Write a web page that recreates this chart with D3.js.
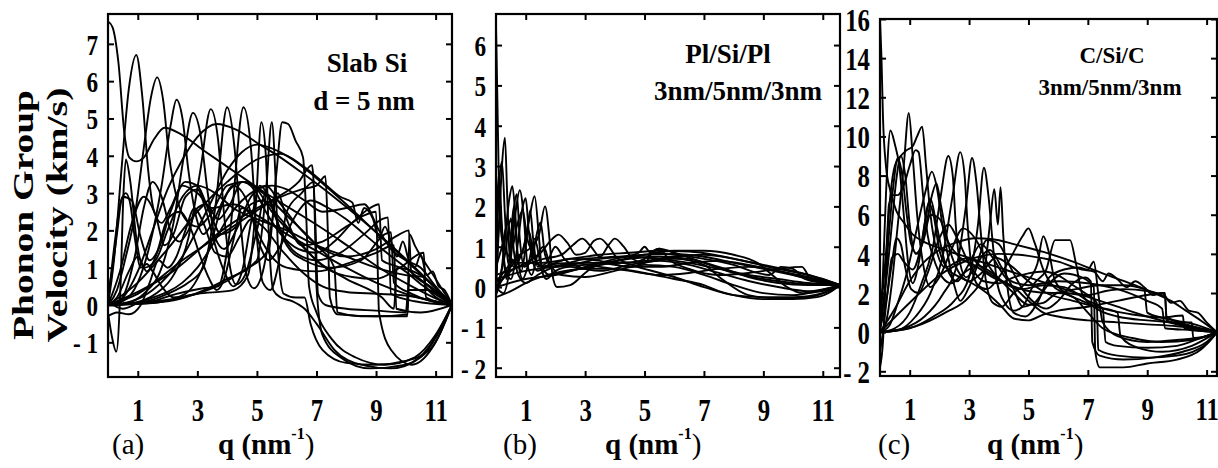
<!DOCTYPE html>
<html>
<head>
<meta charset="utf-8">
<script src="https://cdn.jsdelivr.net/npm/d3@7"></script>
<style>
  body { margin: 0; background: #fff; }
  svg text { fill: #000; }
</style>
</head>
<body>
<div id="chart"></div>
<script>
const svgWidth = 1218;
const svgHeight = 468;

// q tick values shared by all three panels
const qTicks = [1, 3, 5, 7, 9, 11];
const ticksA = [-1, 0, 1, 2, 3, 4, 5, 6, 7];
const ticksB = [-2, -1, 0, 1, 2, 3, 4, 5, 6];
const ticksC = [-2, 0, 2, 4, 6, 8, 10, 12, 14, 16];

// (a) slab Si, d = 5 nm : branches as [q, v]
const curvesA = [
  [[0,7.6],[0.15,7.45],[0.35,6.5],[0.55,4.6],[0.72,3.95],[0.95,3.85],[1.2,3.95],[1.55,4.45],[1.9,4.75],[2.4,4.6],[3.2,4.15],[4.2,3.6],[5.2,3.05],[6.2,2.55],[7.2,2.05],[8.2,1.5],[9.2,0.95],[10.2,0.5],[11,0.18],[11.55,0]],
  [[0,0],[0.5,0.2],[1,0.9],[1.5,2],[2,3.1],[2.5,3.9],[3,4.5],[3.65,4.85],[4.3,4.7],[5,4.35],[5.8,3.95],[6.5,3.55],[7.5,2.95],[8.5,2.3],[9.5,1.6],[10.5,0.85],[11.55,0]],
  [[0,0],[0.8,0.1],[1.5,0.4],[2.5,1.3],[3.3,2.5],[4,3.6],[4.5,4.1],[5,4.3],[5.5,4.2],[6.2,3.9],[7,3.4],[8,2.7],[9,1.95],[10,1.2],[11,0.45],[11.55,0]],
  [[0,0],[0.2,1.2],[0.45,3.6],[0.7,5.8],[0.95,6.7],[1.15,5.6],[1.35,3.6],[1.55,2.5],[1.8,2.2],[2.1,2.6],[2.5,3.2],[3,3.0],[3.5,2.6],[4.2,2.7],[5,2.4],[6,1.9],[7,1.45],[8,1.0],[9,0.6],[10,0.3],[11,0.08],[11.55,0]],
  [[0,0],[0.3,0.4],[0.6,1.3],[0.9,2.4],[1.2,4.2],[1.45,5.6],[1.65,6.1],[1.85,5.5],[2.05,4.0],[2.3,2.9],[2.6,2.3],[3,2.1],[3.5,2.5],[4,3.2],[4.6,3.3],[5.2,3.0],[6,2.4],[7,1.6],[7.6,1.0],[7.7,-0.2],[8.5,-0.3],[10.05,-0.3],[10.12,0.8],[10.8,0.5],[11.55,0]],
  [[0,0],[0.5,0.1],[1,0.6],[1.4,1.6],[1.8,3.2],[2.1,4.8],[2.3,5.5],[2.5,5.0],[2.7,3.6],[2.95,2.4],[3.2,1.9],[3.5,2.2],[4,3.0],[4.5,3.3],[5,3.1],[5.5,2.5],[6.3,1.8],[7,1.2],[8,0.7],[9.2,0.2],[9.6,-0.1],[9.7,1.0],[10.5,0.8],[11.55,0]],
  [[0,0],[0.6,0.05],[1.2,0.3],[1.8,1.0],[2.2,2.2],[2.55,4.0],[2.85,5.15],[3.1,4.6],[3.35,3.0],[3.6,1.8],[3.9,1.5],[4.3,2.0],[4.8,2.9],[5.3,3.2],[5.8,2.7],[6.5,2.0],[7.2,1.5],[8,1.3],[9,1.5],[9.8,1.9],[10.1,2.0],[10.18,0.9],[10.8,0.5],[11.55,0]],
  [[0,0],[0.8,0.05],[1.6,0.3],[2.2,0.8],[2.7,1.8],[3.1,3.6],[3.45,5.25],[3.7,4.4],[3.9,2.4],[4.1,1.0],[4.3,0.55],[4.6,0.8],[5,2.0],[5.3,3.0],[5.6,2.4],[6,1.6],[6.6,1.2],[7.5,1.0],[8.5,1.2],[9.3,1.9],[9.5,1.95],[9.6,0.6],[10.2,0.3],[11.55,0]],
  [[0,0],[1,0.05],[2,0.3],[2.7,0.6],[3.2,1.0],[3.6,2.6],[4.0,5.3],[4.25,4.2],[4.45,2.2],[4.65,0.8],[4.9,0.45],[5.2,0.9],[5.5,2.2],[5.7,3.0],[6,2.3],[6.5,1.6],[7.2,1.7],[8,2.1],[8.6,2.4],[9,2.5],[9.1,-0.2],[9.5,-1.2],[10.2,-1.6],[11,-1.0],[11.55,0]],
  [[0,0],[1.2,0.05],[2.3,0.3],[3.2,0.45],[3.7,0.5],[4.1,2.0],[4.55,5.3],[4.8,4.2],[5.0,1.8],[5.2,0.6],[5.45,0.4],[5.7,1.0],[6.0,2.5],[6.5,3.0],[6.9,3.3],[7.0,0.5],[7.2,-0.8],[7.8,-1.4],[8.8,-1.7],[10,-1.6],[10.8,-1.1],[11.55,0]],
  [[0,0],[1.5,0.05],[3,0.3],[4.2,0.4],[4.7,0.8],[4.95,2.5],[5.15,4.9],[5.3,4.0],[5.42,1.5],[5.55,0.4],[5.8,0.2],[6.2,0.1],[6.6,-0.1],[7,-0.5],[7.6,-1.2],[8.5,-1.6],[9.5,-1.7],[10.5,-1.4],[11.55,0]],
  [[0,0],[2,0.1],[4,0.7],[5,1.2],[5.3,3.0],[5.5,4.9],[5.62,3.5],[5.72,1.3],[5.9,0.3],[6.3,0.2],[6.6,0.2],[6.8,-0.5],[7.2,-1.2],[8,-1.55],[9,-1.6],[10,-1.5],[10.8,-1.2],[11.55,0]],
  [[0,0],[2.5,0.2],[4.5,0.9],[5.4,1.5],[5.65,3.5],[5.85,4.9],[6.05,4.85],[6.3,4.4],[6.55,3.95],[6.65,2.5],[6.75,0.5],[7,-0.2],[7.5,-0.9],[8.3,-1.4],[9.3,-1.6],[10.3,-1.4],[11,-0.8],[11.55,0]],
  [[0,0],[1,0.3],[2.5,1.2],[4,2.0],[5.5,2.8],[6.4,3.3],[6.85,3.75],[6.95,2.5],[7.05,0.3],[7.3,0.0],[8,-0.1],[9,-0.15],[10,-0.2],[10.08,0.4],[10.7,0.4],[11.55,0]],
  [[0,0],[2,0.8],[4,2.1],[5.5,2.8],[6.5,3.1],[7.0,3.2],[7.3,3.45],[7.38,2.0],[7.45,0.2],[7.7,-0.25],[9,-0.3],[10.05,-0.25],[10.12,1.9],[10.3,1.6],[11,0.7],[11.55,0]],
  [[0,0],[1,0.6],[2,1.5],[3,2.5],[4,3.3],[5,3.9],[5.8,4.05],[6.5,3.75],[7.2,3.3],[7.8,2.9],[8.2,2.75],[8.4,2.2],[8.6,2.6],[8.9,2.3],[9.1,1.8],[9.3,2.1],[9.5,1.7],[9.7,1.3],[9.9,1.7],[10.1,1.2],[10.3,1.0],[10.5,1.35],[10.7,0.8],[10.9,0.9],[11.1,0.5],[11.3,0.4],[11.55,0]],
  [[0,-0.2],[0.12,-0.8],[0.28,-1.25],[0.42,0.5],[0.52,3.0],[0.6,3.9],[0.75,3.3],[0.95,1.8],[1.2,1.0],[1.6,1.2],[2,2.0],[2.5,2.9],[3,3.2],[3.6,3.0],[4.2,2.6],[5,2.3],[6,2.0],[7,1.6],[8,1.3],[9,1.0],[10,0.8],[10.6,0.75],[10.68,0.2],[11.55,0]],
  [[0,0],[0.2,1.5],[0.5,2.9],[0.8,2.8],[1.1,1.8],[1.4,1.2],[1.7,1.5],[2.1,2.5],[2.6,3.3],[3.0,3.2],[3.4,2.5],[3.8,1.9],[4.3,2.1],[4.8,2.7],[5.2,2.8],[5.8,2.3],[6.5,1.6],[7.3,1.0],[8.2,0.75],[9,0.7],[9.8,1.0],[10.6,1.4],[10.66,0.5],[11.55,0]],
  [[0,0.1],[0.5,-0.1],[1,0.05],[1.5,0.2],[2,0.35],[2.5,0.6],[3,1.0],[3.5,1.6],[4,2.3],[4.5,2.8],[5,3.1],[5.5,3.2],[6,3.1],[6.6,2.8],[7.2,2.5],[8,2.6],[8.6,2.7],[9.1,2.0],[9.5,1.5],[10,1.2],[10.5,1.0],[11,0.5],[11.55,0]],
  [[0,-0.3],[0.3,-0.2],[0.7,-0.25],[1.1,0.0],[1.4,0.6],[1.7,1.2],[2.0,1.0],[2.3,1.3],[2.6,2.0],[2.9,2.6],[3.2,2.2],[3.6,1.4],[4.0,1.3],[4.4,1.8],[4.8,2.3],[5.2,2.1],[5.8,1.5],[6.5,0.9],[7.2,0.5],[8,0.35],[9,0.3],[10,0.25],[11,0.1],[11.55,0]],
  [[0,0.3],[0.15,1.0],[0.3,1.9],[0.45,2.8],[0.6,3.0],[0.75,2.7],[0.9,1.8],[1.1,1.0],[1.3,1.1],[1.5,0.9],[1.8,0.5],[2.2,0.2],[2.6,0.3],[3.0,0.7],[3.4,1.5],[3.8,2.6],[4.2,3.2],[4.6,2.9],[5.0,2.0],[5.4,1.4],[6,1.0],[7,0.9],[8,1.1],[9,1.4],[9.6,1.6],[9.68,-0.1],[10.5,-0.2],[11.55,0]],
  [[0,0],[0.4,0.9],[0.8,2.2],[1.2,2.9],[1.6,2.4],[1.9,1.6],[2.2,1.9],[2.6,2.9],[3.0,3.1],[3.3,2.5],[3.6,1.6],[3.9,0.9],[4.2,0.5],[4.5,0.9],[4.8,2.2],[5.1,3.2],[5.4,2.9],[5.8,2.0],[6.3,1.4],[7,1.2],[7.8,1.4],[8.6,1.9],[9.2,2.3],[9.4,2.35],[9.5,0.3],[10.3,0.1],[11.55,0]],
  [[0,0],[0.3,0.2],[0.7,0.9],[1.0,1.3],[1.3,0.9],[1.6,1.3],[2.0,2.3],[2.4,2.5],[2.8,2.0],[3.1,1.3],[3.4,0.7],[3.65,0.4],[3.9,0.7],[4.2,1.7],[4.5,2.6],[4.8,2.4],[5.1,1.6],[5.4,1.2],[5.8,1.6],[6.3,2.4],[6.8,2.8],[7.4,2.6],[8,2.3],[8.6,1.9],[9.2,1.5],[10,1.0],[11,0.35],[11.55,0]],
  [[0,0.1],[0.3,0.0],[0.6,0.4],[0.9,1.3],[1.2,2.6],[1.5,3.3],[1.8,2.9],[2.1,2.0],[2.4,1.7],[2.7,2.0],[3.0,2.6],[3.3,2.7],[3.7,2.3],[4.1,2.7],[4.5,3.3],[4.9,3.1],[5.3,2.5],[5.8,1.9],[6.4,1.5],[7,1.4],[7.6,1.7],[8.2,2.2],[8.8,2.6],[9.1,2.7],[9.2,1.2],[9.8,1.0],[10.6,0.5],[11.55,0]]
];

// (b) Pl/Si/Pl 3nm/5nm/3nm
const curvesB = [
  [[0,6.5],[0.05,4.5],[0.1,2.5],[0.2,1.2],[0.4,0.8],[0.8,0.6],[1.5,0.6],[2.5,0.7],[3.5,0.8],[4.5,0.85],[5.5,0.9],[6.5,0.88],[7.5,0.78],[8.5,0.62],[9.5,0.45],[10.5,0.3],[11.58,0.05]],
  [[0,0],[0.1,1.5],[0.2,3.0],[0.3,3.7],[0.38,2.2],[0.45,0.9],[0.6,0.5],[0.9,0.9],[1.1,1.4],[1.3,0.7],[1.6,0.5],[2.2,0.55],[3,0.7],[4,0.75],[5,0.8],[6,0.82],[7,0.75],[8,0.6],[9,0.45],[10,0.3],[11,0.15],[11.58,0.05]],
  [[0,-0.2],[0.15,0.2],[0.3,1.2],[0.45,2.2],[0.55,2.5],[0.65,1.8],[0.75,0.6],[0.9,0.2],[1.1,0.6],[1.3,1.2],[1.5,0.6],[1.8,0.3],[2.5,0.4],[3.5,0.55],[4.5,0.7],[5.5,0.75],[6.5,0.7],[7.5,0.5],[8.5,0.25],[9.5,0.1],[10.5,0.05],[11.58,0.05]],
  [[0,0],[0.25,-0.15],[0.45,0.4],[0.65,1.8],[0.8,2.4],[0.95,1.6],[1.05,0.6],[1.2,0.3],[1.4,0.8],[1.6,1.0],[1.8,0.6],[2.2,0.3],[3,0.25],[4,0.4],[5,0.55],[6,0.5],[7,0.3],[8,0.05],[9,-0.15],[10,-0.2],[10.8,-0.1],[11.58,0.05]],
  [[0,-0.1],[0.3,0.3],[0.6,0.6],[0.9,0.9],[1.1,1.6],[1.3,2.25],[1.45,1.2],[1.55,0.4],[1.7,0.2],[2,0.4],[2.5,0.5],[3,0.45],[3.5,0.55],[4.2,0.6],[5,0.45],[6,0.25],[7,0.0],[8,-0.2],[9,-0.25],[10,-0.25],[11,-0.15],[11.58,0.05]],
  [[0,0.1],[0.4,0.5],[0.8,0.8],[1.2,1.0],[1.45,1.3],[1.65,2.0],[1.8,1.2],[1.9,0.3],[2.05,0.0],[2.5,0.05],[3,0.35],[3.5,0.6],[4,0.55],[4.5,0.5],[5,0.6],[6,0.7],[7,0.55],[7.6,0.2],[8.5,-0.2],[9.5,-0.28],[10.5,-0.25],[11.58,0.05]],
  [[0,0],[0.5,0.4],[1,0.6],[1.5,0.85],[1.9,1.2],[2.1,1.3],[2.4,1.1],[2.7,0.8],[3,0.85],[3.3,1.15],[3.5,1.2],[3.8,1.0],[4.1,0.7],[4.5,0.6],[5,0.7],[5.5,0.95],[6,0.85],[7,0.6],[8,0.35],[9,0.2],[10,0.1],[11,0.05],[11.58,0.05]],
  [[0,0.3],[0.8,0.5],[1.6,0.7],[2.2,0.8],[2.6,1.05],[2.9,1.2],[3.2,1.0],[3.5,0.75],[3.8,1.05],[4.0,1.2],[4.3,1.0],[4.6,0.7],[5,0.6],[5.3,0.9],[5.5,0.95],[5.8,0.7],[6.5,0.45],[7.5,0.3],[8.5,0.35],[9.5,0.45],[10.3,0.5],[10.6,0.2],[11.58,0.05]],
  [[0,0],[1,0.2],[2,0.3],[3,0.5],[4,0.7],[4.8,0.85],[5,1.0],[5.2,0.85],[6,0.8],[7,0.7],[8,0.55],[8.8,0.35],[9.2,0.3],[9.6,0.5],[10,0.45],[10.4,0.2],[11,0.1],[11.58,0.05]],
  [[0,-0.25],[0.5,-0.1],[1,0.1],[2,0.35],[3,0.45],[4,0.45],[5,0.35],[6,0.2],[7,0.05],[7.5,-0.1],[8,-0.2],[9,-0.3],[10,-0.3],[10.8,-0.25],[11.3,-0.1],[11.58,0.05]],
  [[0,0.5],[0.2,1.0],[0.4,1.6],[0.55,1.0],[0.7,1.5],[0.9,1.9],[1.05,1.2],[1.2,0.9],[1.5,0.5],[2,0.6],[2.5,0.7],[3.5,0.65],[4.5,0.5],[5.5,0.5],[6.5,0.6],[7.5,0.65],[8.5,0.55],[9.5,0.4],[10.5,0.25],[11.58,0.05]],
  [[0,1.0],[0.1,2.8],[0.2,1.5],[0.3,0.5],[0.5,0.2],[0.7,0.9],[0.9,2.0],[1.0,2.2],[1.1,1.4],[1.25,0.6],[1.4,0.4],[1.8,0.55],[2.5,0.6],[3.5,0.5],[4.5,0.4],[5.5,0.3],[6.5,0.35],[7.5,0.45],[8.5,0.5],[9.5,0.4],[10.5,0.2],[11.58,0.05]],
  [[0,-0.1],[0.3,0.8],[0.5,1.7],[0.6,0.9],[0.75,0.3],[1.0,0.1],[1.4,0.3],[2,0.5],[3,0.6],[4,0.6],[5,0.65],[6,0.75],[7,0.8],[8,0.7],[9,0.55],[10,0.4],[11,0.2],[11.58,0.05]],
  [[0,0.2],[1,0.4],[2,0.5],[3,0.55],[4,0.65],[5,0.8],[6,0.9],[7,0.9],[8,0.8],[8.8,0.6],[9.3,0.3],[9.8,0.0],[10.3,-0.15],[11,-0.1],[11.58,0.05]],
  [[0,0.2],[0.1,2.5],[0.2,3.1],[0.3,1.8],[0.4,0.6],[0.5,0.8],[0.6,1.9],[0.7,2.3],[0.8,1.2],[0.95,0.5],[1.2,0.7],[1.4,1.4],[1.5,1.6],[1.65,0.8],[1.9,0.5],[2.5,0.55],[3.5,0.7],[4.5,0.75],[5.5,0.7],[6.5,0.6],[7.5,0.45],[8.5,0.3],[9.5,0.2],[10.5,0.1],[11.58,0.05]],
  [[0,0],[0.15,1.8],[0.25,0.8],[0.35,0.2],[0.5,1.2],[0.6,2.0],[0.7,1.0],[0.85,0.4],[1.0,1.0],[1.15,1.9],[1.25,1.2],[1.4,0.5],[1.7,0.6],[2.0,1.0],[2.3,0.7],[2.8,0.5],[3.5,0.4],[4.5,0.55],[5.5,0.65],[6.5,0.55],[7.5,0.35],[8.5,0.15],[9.5,0.0],[10.5,-0.1],[11.58,0.05]]
];

// (c) C/Si/C 3nm/5nm/3nm
const curvesC = [
  [[0,16],[0.05,14],[0.1,11],[0.2,8.5],[0.35,7.2],[0.55,6.2],[0.8,5.6],[1.1,5.0],[1.5,4.6],[2,4.3],[3,3.8],[4,3.3],[5,2.8],[6,2.3],[7,1.8],[8,1.3],[9,0.8],[10,0.4],[11,0.1],[11.35,0]],
  [[0,0],[0.1,3],[0.2,7],[0.35,10.3],[0.5,9.6],[0.65,8.5],[0.8,6],[0.95,3.5],[1.1,2.5],[1.3,3.5],[1.5,5.5],[1.7,6.8],[1.9,5.5],[2.2,3.5],[2.6,2.6],[3,3.5],[3.4,4.5],[3.8,3.8],[4.3,2.7],[5,2.4],[6,2.6],[7,2.5],[8,2.2],[9,1.6],[9.5,1.2],[9.6,0.2],[10.5,0.1],[11.35,0]],
  [[0,0],[0.2,0.5],[0.4,2.5],[0.6,5.5],[0.8,8.5],[0.97,11.2],[1.1,9],[1.25,6],[1.45,3.5],[1.7,2.3],[2,2.8],[2.4,4.2],[2.8,5.3],[3.2,4.8],[3.7,3.3],[4.2,2.5],[4.8,2.2],[5.5,2.4],[6.2,2.3],[7,1.6],[7.5,1.2],[7.6,-0.5],[8,-0.7],[9,-0.8],[10,-0.7],[10.8,-0.3],[11.35,0]],
  [[0,0.5],[0.2,4],[0.35,7],[0.5,8.5],[0.7,9.0],[0.9,9.3],[1.1,9.5],[1.25,10.0],[1.42,10.5],[1.55,8.5],[1.7,6],[1.9,4.2],[2.2,3.3],[2.6,3.6],[3,3.8],[3.5,3.2],[4,2.7],[4.5,2.3],[5,1.6],[5.5,1.0],[6,0.8],[7,0.6],[8,0.5],[9,0.4],[10,0.3],[11.35,0]],
  [[0,-1.8],[0.1,-0.5],[0.2,3],[0.3,6.5],[0.45,7.0],[0.6,7.0],[0.8,7.5],[1.0,8.5],[1.2,9.3],[1.3,9.2],[1.45,7],[1.6,5],[1.8,3.8],[2.1,2.8],[2.4,2.5],[2.8,3.0],[3.3,3.4],[3.8,3.0],[4.5,2.0],[5,1.4],[5.5,1.5],[6,2.0],[6.5,1.8],[7,1.0],[7.5,0.2],[8.5,-0.3],[9.5,-0.5],[10.5,-0.4],[11.35,0]],
  [[0,0],[0.3,0.3],[0.6,1.5],[0.9,3],[1.2,5],[1.5,7],[1.75,8.2],[1.9,7.5],[2.1,5.5],[2.3,3.8],[2.5,2.4],[2.7,1.6],[3,2.3],[3.4,3.8],[3.7,4.2],[4.1,3.3],[4.5,2.2],[4.8,1.3],[5.2,1.5],[5.7,2.5],[6.2,3.0],[6.8,2.8],[7.2,2.3],[7.25,-1.0],[7.4,-1.8],[8.2,-1.8],[9,-1.6],[10,-1.4],[10.8,-0.9],[11.35,0]],
  [[0,0],[0.5,0.2],[1,1.0],[1.4,2.5],[1.8,4.5],[2.05,7],[2.3,9.0],[2.45,8],[2.55,5.5],[2.7,3.5],[2.9,2.8],[3.2,3.3],[3.6,4.7],[4.0,4.5],[4.4,3.3],[4.8,2.2],[5.2,1.5],[5.6,1.2],[6,1.6],[6.5,2.5],[6.9,2.8],[7.1,2.6],[7.15,-0.5],[7.4,-1.2],[8.2,-1.4],[9.2,-1.3],[10.2,-1.0],[11,-0.5],[11.35,0]],
  [[0,0],[0.6,0.1],[1.2,0.8],[1.7,2.0],[2.1,3.8],[2.45,7],[2.7,9.2],[2.85,8],[2.95,5.5],[3.1,3.2],[3.3,2.4],[3.6,2.2],[4,2.8],[4.4,3.8],[4.8,4.9],[5,5.3],[5.2,4.6],[5.5,3.2],[5.8,2.4],[6.2,2.0],[6.8,1.6],[7.3,1.3],[8,1.0],[8.1,-0.2],[8.7,-0.8],[9.5,-1.0],[10.5,-0.7],[11.35,0]],
  [[0,0],[0.8,0.2],[1.5,0.8],[2.1,1.9],[2.6,3.5],[2.9,6.5],[3.1,8.9],[3.25,7.6],[3.4,5],[3.55,2.8],[3.8,1.5],[4.1,1.3],[4.5,2.0],[4.9,2.5],[5.3,3.5],[5.5,4.9],[5.7,4.0],[5.9,2.6],[6.3,2.0],[7,1.9],[7.6,2.1],[8.2,2.2],[9,2.1],[9.6,1.8],[9.65,0.8],[10.3,0.4],[11.35,0]],
  [[0,0],[1,0.2],[1.8,0.8],[2.5,1.6],[3,2.8],[3.3,5.5],[3.5,8.4],[3.65,7],[3.8,4.5],[3.95,2.5],[4.2,1.5],[4.5,1.1],[4.8,1.3],[5.2,2.5],[5.6,3.2],[5.9,4.7],[6.4,4.7],[6.6,3.5],[6.8,2.0],[7.2,1.3],[8,0.8],[9,0.6],[10,0.5],[10.5,0.5],[10.55,-0.3],[11,-0.2],[11.35,0]],
  [[0,0],[1.2,0.3],[2.2,1.0],[3,1.8],[3.5,3],[3.7,5.5],[3.85,7.3],[3.97,5.5],[4.06,7.4],[4.15,5],[4.3,2.2],[4.5,1.0],[4.9,0.8],[5.3,1.5],[5.7,2.8],[6.2,3.2],[6.7,3.3],[7.0,3.2],[7.2,3.6],[7.35,2.0],[7.5,0.5],[8,-0.2],[9,-0.5],[10,-0.4],[11,-0.2],[11.35,0]],
  [[0,0],[0.5,1.2],[1,2.6],[1.5,3.6],[2,4.2],[2.6,4.6],[3.2,4.8],[3.8,4.75],[4.5,4.5],[5.5,4.1],[6.5,3.6],[7.5,3.0],[8.5,2.45],[9.3,1.95],[9.8,1.6],[10.3,1.1],[10.8,0.6],[11.35,0]],
  [[0,0],[1,1.5],[2,2.9],[3,3.7],[4,4.0],[5,3.9],[6,3.6],[6.8,3.2],[7.2,3.1],[7.5,2.6],[7.7,3.0],[8.0,2.7],[8.3,2.3],[8.6,2.6],[8.9,2.3],[9.2,1.9],[9.5,2.0],[9.8,1.5],[10.1,1.6],[10.4,1.1],[10.7,1.0],[11,0.5],[11.35,0]],
  [[0,0.2],[0.2,1.5],[0.4,3.5],[0.55,4.8],[0.7,4.5],[0.85,3.3],[1.05,2.2],[1.3,2.0],[1.6,3.0],[2,4.8],[2.3,5.5],[2.6,4.8],[3,3.5],[3.5,2.6],[4,2.5],[4.5,2.8],[5,3.0],[5.5,3.1],[6,2.9],[6.5,2.4],[6.9,2.0],[7.3,1.5],[7.35,-0.9],[8,-1.2],[9,-1.3],[10,-1.2],[11,-0.6],[11.35,0]],
  [[0,-1],[0.1,0],[0.25,2],[0.4,3.8],[0.6,4.0],[0.8,3.6],[1.1,3.2],[1.4,4.5],[1.65,6.6],[1.8,6.0],[2,4.2],[2.3,3.2],[2.7,2.8],[3.1,2.5],[3.6,2.0],[4.1,1.3],[4.5,0.7],[5,0.6],[5.5,0.9],[6,1.1],[7,1.3],[8,1.6],[9,1.9],[9.6,2.0],[9.65,0.6],[10.5,0.3],[11.35,0]],
  [[0,0],[0.15,2],[0.3,5],[0.45,7.5],[0.6,8.9],[0.75,8.0],[0.9,6.0],[1.05,4.5],[1.25,4.0],[1.5,5.0],[1.75,7.0],[1.9,7.6],[2.05,6.5],[2.3,4.5],[2.6,3.2],[3,2.6],[3.4,3.0],[3.9,3.8],[4.4,3.4],[5,2.6],[5.6,2.0],[6.5,1.6],[7.5,1.2],[8.5,0.9],[9.5,0.75],[10.2,0.85],[10.25,0.2],[11.35,0]],
  [[0,0.3],[0.2,2.5],[0.4,5.5],[0.55,7.8],[0.7,9.0],[0.85,8.0],[1.0,5.5],[1.2,4.0],[1.45,4.6],[1.7,6.0],[2.0,5.8],[2.3,4.6],[2.7,3.8],[3.2,3.4],[3.8,2.8],[4.4,2.4],[5,2.1],[5.8,2.0],[6.6,2.2],[7.4,2.4],[8.2,2.4],[8.9,2.2],[9,1.0],[9.6,0.7],[10.6,0.4],[11.35,0]]
];

const panels = [
  { id: "a", curves: curvesA, ticks: ticksA, qMax: 11.55, vDom: [-1.93, 7.8],
    left: 108, right: 452, top: 14, bottom: 377, fs: 29,
    tag: "(a)", tagX: 112, qX: 218,
    notes: [["Slab Si", 367, 72, 27], ["d = 5 nm", 364, 110, 27]] },
  { id: "b", curves: curvesB, ticks: ticksB, qMax: 11.58, vDom: [-2.23, 6.77],
    left: 496, right: 840, top: 14, bottom: 377, fs: 29,
    tag: "(b)", tagX: 503, qX: 605,
    notes: [["Pl/Si/Pl", 728, 63, 27], ["3nm/5nm/3nm", 738, 100, 27]] },
  { id: "c", curves: curvesC, ticks: ticksC, qMax: 11.35, vDom: [-2.24, 16],
    left: 880, right: 1217, top: 19, bottom: 376, fs: 31,
    tag: "(c)", tagX: 878, qX: 987,
    notes: [["C/Si/C", 1112, 63, 23], ["3nm/5nm/3nm", 1110, 95, 23]] }
];

const serif = "'Liberation Serif', 'Times New Roman', Times, 'Nimbus Roman', serif";

const svg = d3.select("#chart")
  .append("svg")
  .attr("width", svgWidth)
  .attr("height", svgHeight)
  .style("font-family", serif);

const squeeze = 0.8;
const fmt = d => d < 0 ? "- " + Math.abs(d) : String(d);

panels.forEach(function (p) {
  const w = p.right - p.left;
  const h = p.bottom - p.top;

  const x = d3.scaleLinear().domain([0, p.qMax]).range([0, w]);
  const y = d3.scaleLinear().domain(p.vDom).range([h, 0]);

  const g = svg.append("g")
    .attr("transform", `translate(${p.left}, ${p.top})`);

  g.append("clipPath")
    .attr("id", "clip-" + p.id)
    .append("rect")
    .attr("width", w)
    .attr("height", h);

  const line = d3.line()
    .x(d => x(d[0]))
    .y(d => y(d[1]))
    .curve(d3.curveMonotoneX);

  g.append("g")
    .attr("clip-path", `url(#clip-${p.id})`)
    .selectAll("path")
    .data(p.curves)
    .enter()
    .append("path")
    .attr("d", line)
    .attr("fill", "none")
    .attr("stroke", "#000")
    .attr("stroke-width", 1.9)
    .attr("stroke-linejoin", "round");

  // inward ticks on all four sides
  const leftAxis = d3.axisLeft(y).tickValues(p.ticks).tickSize(-6).tickPadding(10).tickFormat(fmt);
  const rightAxis = d3.axisRight(y).tickValues(p.ticks).tickSize(-6).tickFormat("");
  const bottomAxis = d3.axisBottom(x).tickValues(qTicks).tickSize(-6).tickPadding(22);
  const topAxis = d3.axisTop(x).tickValues(qTicks).tickSize(-6).tickFormat("");

  const axL = g.append("g").call(leftAxis);
  g.append("g").attr("transform", `translate(${w}, 0)`).call(rightAxis);
  const axB = g.append("g").attr("transform", `translate(0, ${h})`).call(bottomAxis);
  g.append("g").call(topAxis);

  g.selectAll(".domain").remove();
  g.selectAll(".tick line").attr("stroke", "#000").attr("stroke-width", 2);
  g.selectAll("g").attr("font-family", null);

  axL.selectAll("text")
    .style("font-family", serif)
    .attr("font-weight", "bold")
    .attr("font-size", p.fs)
    .attr("x", -10 / squeeze)
    .attr("dy", "0.36em")
    .attr("transform", `scale(${squeeze},1)`);

  axB.selectAll("text")
    .style("font-family", serif)
    .attr("font-weight", "bold")
    .attr("font-size", 31)
    .attr("dy", "0.71em")
    .attr("transform", `scale(${squeeze},1)`);

  g.append("rect")
    .attr("width", w)
    .attr("height", h)
    .attr("fill", "none")
    .attr("stroke", "#000")
    .attr("stroke-width", 2.2);

  // panel tag and axis label
  svg.append("text")
    .attr("x", p.tagX)
    .attr("y", 454)
    .attr("font-size", 29)
    .text(p.tag);

  const ql = svg.append("text")
    .attr("x", p.qX)
    .attr("y", 454)
    .attr("font-size", 29)
    .attr("font-weight", "bold");
  ql.append("tspan").text("q (nm");
  ql.append("tspan").attr("font-size", 16).attr("dy", -15).text("-1");
  ql.append("tspan").attr("dy", 15).attr("font-weight", "normal").text(")");

  p.notes.forEach(function (n) {
    svg.append("text")
      .attr("x", n[1])
      .attr("y", n[2])
      .attr("text-anchor", "middle")
      .attr("font-size", n[3])
      .attr("font-weight", "bold")
      .text(n[0]);
  });
});

// shared y title
const title = svg.append("g").attr("font-weight", "bold").attr("font-size", 30);
title.append("text")
  .attr("transform", "translate(33, 215) rotate(-90)")
  .attr("text-anchor", "middle")
  .attr("textLength", 250)
  .attr("lengthAdjust", "spacingAndGlyphs")
  .text("Phonon Group");
title.append("text")
  .attr("transform", "translate(67, 215) rotate(-90)")
  .attr("text-anchor", "middle")
  .attr("textLength", 255)
  .attr("lengthAdjust", "spacingAndGlyphs")
  .text("Velocity (km/s)");
</script>
</body>
</html>
